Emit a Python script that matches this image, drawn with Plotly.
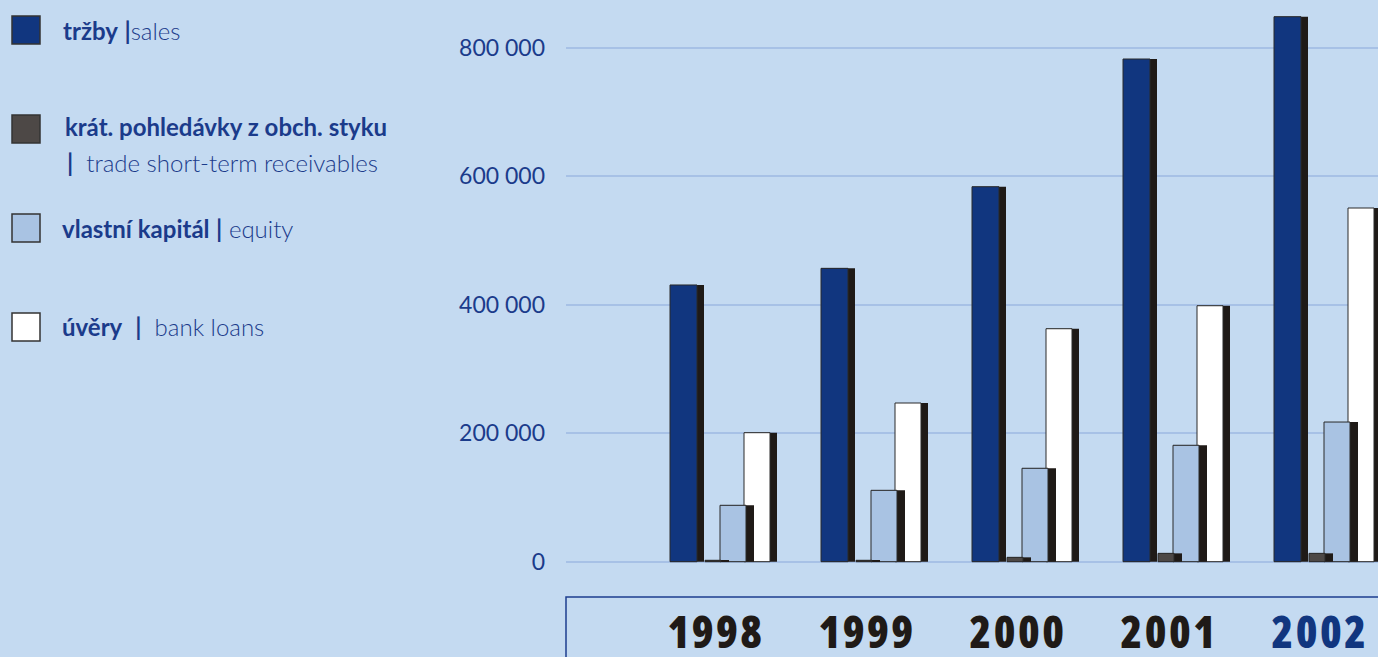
import plotly.graph_objects as go

W, H = 1378, 657

years = ["1998", "1999", "2000", "2001", "2002"]
sales = [430700, 456600, 583600, 782400, 848200]
receivables = [2200, 2200, 6800, 13000, 13000]
equity = [87800, 111100, 145400, 181200, 217400]
loans = [200800, 247000, 362600, 398400, 550500]

tick_vals = [0, 200000, 400000, 600000, 800000]
tick_text = ["0", "200 000", "400 000", "600 000", "800 000"]

BG = "#c4daf1"
NAVY = "#11367f"
DARK = "#1f1a17"
TXT = "#1b3b8b"

PX = 151.0  # pixels per category unit
xs = list(range(len(years)))

def u(px):
    return px / PX

fig = go.Figure()

# series: (values, color, face_offset_px, face_width_px, shadow_width_px)
series = [
    (loans, "#ffffff", 28, 26, 33),
    (equity, "#a9c3e3", 4, 26, 34),
    (receivables, "#4d4846", -11, 16, 24),
    (sales, NAVY, -46, 27, 34),
]
for vals, col, off, fw, sw in series:
    fig.add_trace(go.Bar(x=xs, y=vals, offset=u(off), width=u(sw),
                         marker=dict(color=DARK, line=dict(width=0)),
                         hoverinfo="skip", showlegend=False))
    fig.add_trace(go.Bar(x=xs, y=vals, offset=u(off), width=u(fw),
                         marker=dict(color=col, line=dict(color="#2a2a2a", width=1)),
                         showlegend=False))

x_left = (566 - 716) / PX
x_right = (W - 716) / PX
zero_px = 561.7
per_px = 200000 / 128.5
y_top = zero_px * per_px
y_bot = -(597 - zero_px) * per_px

st = "font-stretch:condensed;letter-spacing:2.5px"
tick_html = [f"<span style='color:{DARK};{st}'>{y}</span>" for y in years[:-1]] + \
            [f"<span style='color:{NAVY};{st}'>{years[-1]}</span>"]

fig.update_layout(
    width=W, height=H,
    margin=dict(l=0, r=0, t=0, b=0),
    paper_bgcolor=BG, plot_bgcolor=BG,
    barmode="overlay",
    showlegend=False,
    xaxis=dict(domain=[566 / W, 1], range=[x_left, x_right],
               tickmode="array", tickvals=xs, ticktext=tick_html,
               showgrid=False, zeroline=False, showline=False, ticks="",
               tickfont=dict(family="Open Sans, DejaVu Sans, sans-serif",
                             size=44, color=DARK, weight=800),
               ticklabelstandoff=6, automargin=False),
    yaxis=dict(domain=[(H - 597) / H, 1], range=[y_bot, y_top],
               tickmode="array", tickvals=tick_vals, ticktext=tick_text,
               showgrid=True, gridcolor="#a7c1e6", gridwidth=1.5,
               zeroline=False, showline=False, ticks="",
               tickfont=dict(family="Lato, sans-serif", size=23, color=TXT),
               ticklabelstandoff=20, automargin=False),
)

def px_x(px):
    return px / W

def px_y(py):
    return 1 - py / H

# bottom box
fig.add_shape(type="path", xref="paper", yref="paper",
              path=f"M {px_x(566)},{px_y(660)} L {px_x(566)},{px_y(597)} L {px_x(1380)},{px_y(597)}",
              line=dict(color="#1d3e8e", width=1.5))

# custom legend
legend_items = [
    (NAVY, 16),
    ("#4d4846", 115),
    ("#a9c3e3", 214),
    ("#ffffff", 313),
]
for col, top in legend_items:
    fig.add_shape(type="rect", xref="paper", yref="paper",
                  x0=px_x(12), x1=px_x(40), y0=px_y(top + 28), y1=px_y(top),
                  fillcolor=col, line=dict(color="#333333", width=1.5))

labels = [
    (61, 30, "<b>tržby</b> <b>|</b>sales"),
    (63, 127, "<b>krát. pohledávky z obch. styku</b>"),
    (65, 162, "<b>|</b>  trade short-term receivables"),
    (60, 228, "<b>vlastní kapitál</b> <b>|</b> equity"),
    (60, 326, "<b>úvěry</b>  <b>|</b>  bank loans"),
]
for x, y, t in labels:
    fig.add_annotation(xref="paper", yref="paper", x=px_x(x), y=px_y(y),
                       text=t, showarrow=False, xanchor="left", yanchor="middle",
                       font=dict(family="Lato, sans-serif", size=24, color=TXT, weight=300))

fig.write_html("out.html", config={"displayModeBar": False},
               post_script="document.body.style.margin='0';document.body.style.overflow='hidden';")
